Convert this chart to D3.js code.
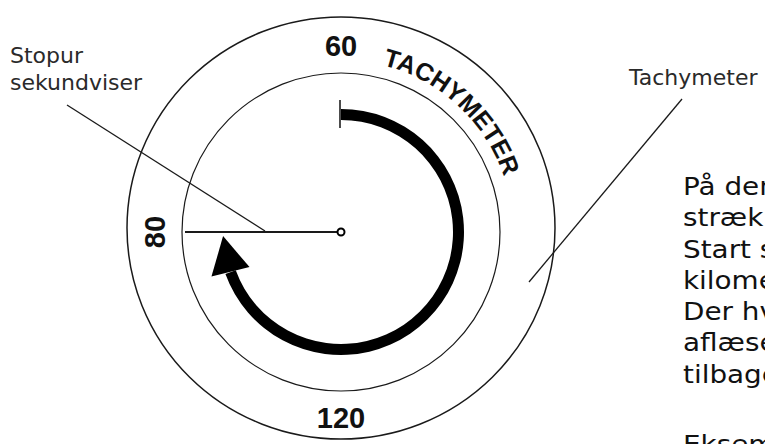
<!DOCTYPE html>
<html>
<head>
<meta charset="utf-8">
<script src="https://cdn.jsdelivr.net/npm/d3@7"></script>
<style>
  body { margin: 0; background: #fff; overflow: hidden; }
  svg { display: block; }
</style>
</head>
<body>
<script>
/* dial values */
var dialLabels = ["60", "80", "120"]
var dialAngles = [0, 270, 180]          // where each number sits on the bezel (degrees)
var bezelTitle = "TACHYMETER"
var sweep = [0, 250]                    // stopwatch sweep, degrees
var arrowTip = 268

/* callouts and side text */
var leftCallout = ["Stopur", "sekundviser"]
var rightCallout = ["Tachymeter"]
var paragraph = ["På den", "strækning", "Start stopuret", "kilometer", "Der hvor", "aflæses", "tilbage", "", "Eksempel"]

var width = 765, height = 444
var cx = 341, cy = 232

var svg = d3.select("body").append("svg")
	.attr("width", width)
	.attr("height", height)

var angle = d3.scaleLinear().domain([0, 360]).range([0, 2 * Math.PI])

function polar(deg, r){
	var a = angle(deg)
	return [cx + r * Math.sin(a), cy - r * Math.cos(a)]
}

/*bezel rings*/
svg.append("ellipse")
	.attr("cx", cx).attr("cy", cy - 4)
	.attr("rx", 214).attr("ry", 211)
	.attr("fill", "none").attr("stroke", "#1a1a1a").attr("stroke-width", 1.5)

svg.append("circle")
	.attr("cx", cx).attr("cy", cy).attr("r", 159)
	.attr("fill", "none").attr("stroke", "#1a1a1a").attr("stroke-width", 1.2)

/*numbers on the bezel*/
svg.selectAll(".num")
	.data(dialLabels)
	.enter()
	.append("text")
	.attr("class", "num")
	.attr("transform", function(d, i){
		var p = polar(dialAngles[i], 186)
		var rot = dialAngles[i] == 270 ? -90 : 0
		return "translate(" + p[0] + "," + p[1] + ") rotate(" + rot + ")"
	})
	.attr("text-anchor", "middle")
	.attr("dy", "0.36em")
	.style("font-family", "'Liberation Sans', Arial, sans-serif")
	.style("font-weight", "bold")
	.style("font-size", "29px")
	.attr("fill", "#111")
	.text(function(d){return d})

/*curved title along the bezel*/
svg.append("path")
	.attr("id", "titlePath")
	.attr("d", function(){
		var a = polar(14, 172), b = polar(95, 172)
		return "M" + a[0] + "," + a[1] + " A172,172 0 0,1 " + b[0] + "," + b[1]
	})
	.attr("fill", "none")

svg.append("text")
	.style("font-family", "'Liberation Sans', Arial, sans-serif")
	.style("font-weight", "bold")
	.style("font-size", "25px")
	.attr("fill", "#111")
	.append("textPath")
	.attr("href", "#titlePath")
	.text(bezelTitle)

/*stopwatch sweep arrow*/
var sweepArc = d3.arc()
	.innerRadius(112).outerRadius(123)
	.startAngle(angle(sweep[0])).endAngle(angle(sweep[1]))

svg.append("path")
	.attr("transform", "translate(" + cx + "," + cy + ")")
	.attr("d", sweepArc())
	.attr("fill", "#000")

var b1 = polar(sweep[1] - 1, 98), b2 = polar(sweep[1] + 1, 137), tip = polar(arrowTip, 118)
svg.append("path")
	.attr("d", d3.line()([b1, b2, tip]) + "Z")
	.attr("fill", "#000")

// start tick
var t1 = polar(sweep[0], 104), t2 = polar(sweep[0], 132)
svg.append("line")
	.attr("x1", t1[0] - 1).attr("y1", t1[1])
	.attr("x2", t2[0] - 1).attr("y2", t2[1])
	.attr("stroke", "#111").attr("stroke-width", 1.5)

/*second hand*/
var h = polar(270, 156)
svg.append("line")
	.attr("x1", h[0]).attr("y1", h[1])
	.attr("x2", cx - 4).attr("y2", cy)
	.attr("stroke", "#1a1a1a").attr("stroke-width", 2)

svg.append("circle")
	.attr("cx", cx).attr("cy", cy).attr("r", 3.5)
	.attr("fill", "#fff").attr("stroke", "#000").attr("stroke-width", 2)

/*callout lines*/
svg.append("line")
	.attr("x1", 67).attr("y1", 105).attr("x2", 265).attr("y2", 231)
	.attr("stroke", "#1a1a1a").attr("stroke-width", 1.3)

svg.append("line")
	.attr("x1", 682).attr("y1", 99).attr("x2", 529).attr("y2", 282)
	.attr("stroke", "#1a1a1a").attr("stroke-width", 1.3)

svg.selectAll(".lcall")
	.data(leftCallout)
	.enter()
	.append("text")
	.attr("x", 10)
	.attr("y", function(d, i){return 63 + i * 27})
	.style("font-family", "'DejaVu Sans', Verdana, sans-serif")
	.style("font-size", "22px")
	.attr("fill", "#2a2a2a")
	.text(function(d){return d})

svg.selectAll(".rcall")
	.data(rightCallout)
	.enter()
	.append("text")
	.attr("x", 629)
	.attr("y", 85)
	.style("font-family", "'DejaVu Sans', Verdana, sans-serif")
	.style("font-size", "22px")
	.attr("fill", "#2a2a2a")
	.text(function(d){return d})

/*explanation text, runs off the right edge like the original*/
var para = svg.append("g")
	.attr("transform", "translate(683,0) scale(1.16,1)")

para.selectAll("text")
	.data(paragraph)
	.enter()
	.append("text")
	.attr("x", 0)
	.attr("y", function(d, i){return i < 8 ? 195 + i * 31.3 : 453})
	.style("font-family", "'DejaVu Sans', Verdana, sans-serif")
	.style("font-size", "24px")
	.attr("fill", "#111")
	.text(function(d){return d})
</script>
</body>
</html>
